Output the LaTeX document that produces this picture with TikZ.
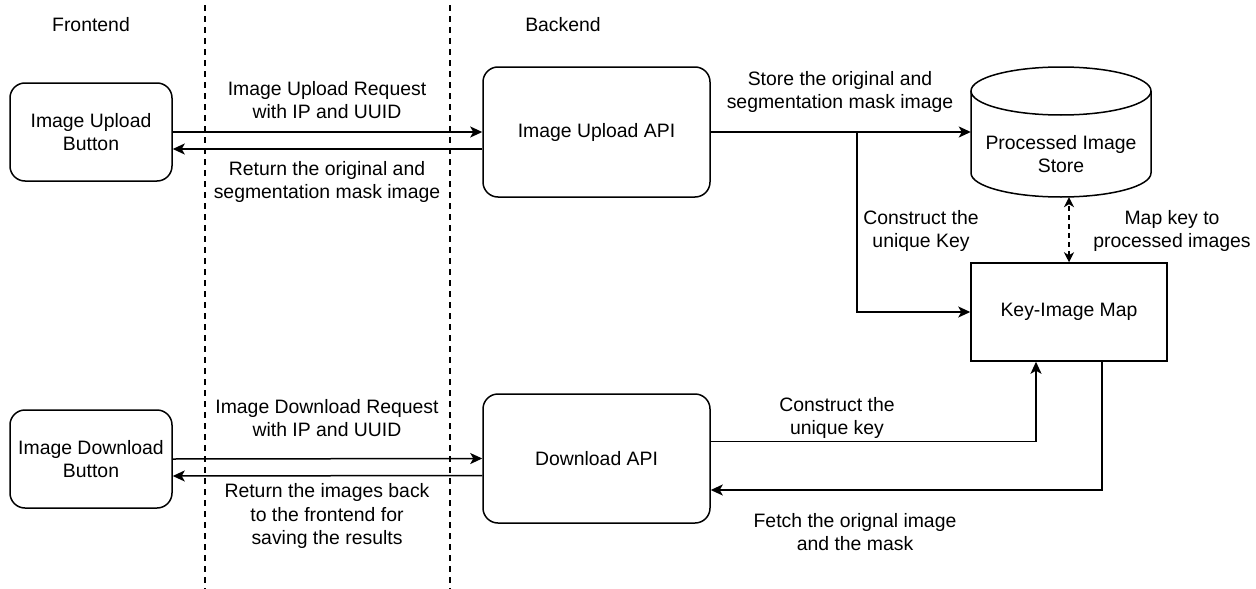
\documentclass[tikz,border=0pt]{standalone}
\usepackage{fontspec}
\setmainfont{Liberation Sans}
\usetikzlibrary{arrows.meta}
\tikzset{
  box/.style={draw, line width=1.5pt, rounded corners=15pt, align=center,
    minimum width=162pt, minimum height=98pt, inner sep=0pt},
  sqbox/.style={draw, line width=1.5pt, align=center, inner sep=0pt},
  lbl/.style={align=center, inner sep=0pt},
  conn/.style={line width=1.5pt, -{Stealth[length=12pt,width=11pt,inset=3pt]}},
  dconn/.style={line width=1.5pt, dash pattern=on 5pt off 4pt,
    {Stealth[length=10pt,width=10pt,inset=3pt]}-{Stealth[length=10pt,width=10pt,inset=3pt]}},
  lane/.style={line width=1.3pt, dash pattern=on 6pt off 5pt}
}
\begin{document}
\begin{tikzpicture}[x=1pt,y=-1pt,font=\fontsize{19.4}{23.5}\selectfont]
\useasboundingbox (0,0) rectangle (1256,589);

% lanes
\draw[lane] (205,5) -- (205,589);
\draw[lane] (450,5) -- (450,589);
\node[lbl] (fe) at (91,25) {Frontend};
\node[lbl] (be) at (563,25) {Backend};

% boxes
\node[box] (ub) at (91,132) {Image Upload\\Button};
\node[box, minimum width=227pt, minimum height=130pt] (ua) at (596.5,132) {Image Upload API};
\node[box] (db) at (91,459) {Image Download\\Button};
\node[box, minimum width=227pt, minimum height=129pt] (da) at (596.5,458.5) {Download API};
\node[sqbox, minimum width=196pt, minimum height=98pt] (map) at (1069,312) {Key-Image Map};

% cylinder store
\node[inner sep=0pt, minimum width=180pt, minimum height=130pt] (store) at (1061,132) {};
\draw[line width=1.5pt] (971,91) -- (971,173) arc[start angle=180, end angle=0, x radius=90, y radius=24] -- (1151,91);
\draw[line width=1.5pt] (1061,91) ellipse[x radius=90, y radius=24];
\node[lbl] (storetxt) at (1061,154) {Processed Image\\Store};

% upload connectors
\draw[conn] (ub.east) -- (ua.west);
\draw[conn] ([yshift=-17pt]ua.west) -- ([yshift=-17pt]ub.east);
\node[lbl] (l1) at (327,100) {Image Upload Request\\with IP and UUID};
\node[lbl] (l2) at (327,182) {Return the original and\\segmentation mask image};

% download connectors
\draw[conn] (db.east) -- (da.west);
\draw[conn] ([yshift=-17pt]da.west) -- ([yshift=-17pt]db.east);
\node[lbl] (l3) at (327,418) {Image Download Request\\with IP and UUID};
\node[lbl] (l4) at (327,516) {Return the images back\\to the frontend for\\saving the results};

% backend connectors
\draw[conn] (ua.east) -- (store.west);
\coordinate (br) at (857,132);
\draw[conn] (br) |- (map.west);
\node[lbl] (l5) at (840,92) {Store the original and\\segmentation mask image};
\node[lbl] (l6) at (921,231) {Construct the\\unique Key};

\draw[dconn] (map.north) -- (map.north |- store.south);
\node[lbl] (l7) at (1172,231) {Map key to\\processed images};

\draw[conn] ([yshift=17pt]da.east) -| ([xshift=-33pt]map.south);
\node[lbl] (l8) at (837,418) {Construct the\\unique key};

\draw[conn] ([xshift=33pt]map.south) |- ([yshift=-31.5pt]da.east);
\node[lbl] (l9) at (855,532) {Fetch the orignal image\\and the mask};
\end{tikzpicture}
\end{document}
